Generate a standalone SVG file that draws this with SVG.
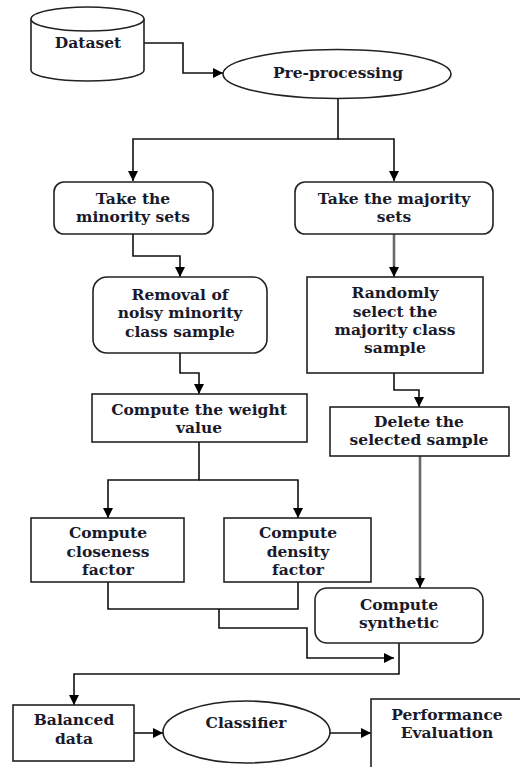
<svg xmlns="http://www.w3.org/2000/svg" width="520" height="767" viewBox="0 0 520 767">
<style>
.n{fill:#fff;stroke:#222;stroke-width:1.6}
.t{font-family:"DejaVu Serif","Liberation Serif",serif;font-size:15.5px;font-weight:bold;fill:#1a1a2a;text-anchor:middle}
.c{fill:none;stroke:#111;stroke-width:1.6}
.g{fill:none;stroke:#6a6a6a;stroke-width:2.6}
</style>
<defs>
<marker id="a" markerUnits="userSpaceOnUse" markerWidth="10" markerHeight="10" refX="10" refY="5" orient="auto" viewBox="0 0 10 10">
<path d="M0,0 L10,5 L0,10 z" fill="#000"/>
</marker>
</defs>
<rect width="520" height="767" fill="#fff"/>
<g id="connectors">
<path class="c" d="M144,43 H183 V73 H223" marker-end="url(#a)"/>
<path class="c" d="M338,99 V139 H133 V181" marker-end="url(#a)"/>
<path class="c" d="M338,139 H394 V181" marker-end="url(#a)"/>
<path class="c" d="M133,234 V256 H180 V277" marker-end="url(#a)"/>
<path class="g" d="M394,234 V268"/>
<path class="c" d="M394,266 V277" marker-end="url(#a)"/>
<path class="c" d="M180,353 V373 H199 V394" marker-end="url(#a)"/>
<path class="c" d="M394,373 V390 H419 V407" marker-end="url(#a)"/>
<path class="c" d="M199,442 V480 H108 V518" marker-end="url(#a)"/>
<path class="c" d="M199,480 H298 V518" marker-end="url(#a)"/>
<path class="g" d="M420,456 V578"/>
<path class="c" d="M420,576 V588" marker-end="url(#a)"/>
<path class="c" d="M108,582 V609 H298 V582"/>
<path class="c" d="M219,609 V628 H307 V658 H394" marker-end="url(#a)"/>
<path class="c" d="M399,643 V674 H74 V705" marker-end="url(#a)"/>
<path class="c" d="M134,733 H163" marker-end="url(#a)"/>
<path class="c" d="M330,733 H371" marker-end="url(#a)"/>
</g>
<g id="dataset">
<path class="n" d="M31,19 V70 A56.5,11 0 0 0 144,70 V19"/>
<ellipse class="n" cx="87.5" cy="19" rx="56.5" ry="12"/>
<text class="t" x="88" y="48">Dataset</text>
</g>
<g id="preprocessing">
<ellipse class="n" cx="337" cy="74" rx="114" ry="24.5"/>
<text class="t" x="338" y="78">Pre-processing</text>
</g>
<g id="minority">
<rect class="n" x="54" y="182" width="159" height="52" rx="10"/>
<text class="t" x="133" y="204">Take the</text>
<text class="t" x="133" y="222">minority sets</text>
</g>
<g id="majority">
<rect class="n" x="295" y="182" width="198" height="52" rx="10"/>
<text class="t" x="394" y="204">Take the majority</text>
<text class="t" x="394" y="222">sets</text>
</g>
<g id="removal">
<rect class="n" x="93" y="277" width="174" height="76" rx="14"/>
<text class="t" x="180" y="300">Removal of</text>
<text class="t" x="180" y="318">noisy minority</text>
<text class="t" x="180" y="337">class sample</text>
</g>
<g id="randomly">
<rect class="n" x="307" y="277" width="176" height="96"/>
<text class="t" x="395" y="298">Randomly</text>
<text class="t" x="395" y="317">select the</text>
<text class="t" x="395" y="335">majority class</text>
<text class="t" x="395" y="353">sample</text>
</g>
<g id="weight">
<rect class="n" x="92" y="394" width="215" height="48"/>
<text class="t" x="199" y="415">Compute the weight</text>
<text class="t" x="199" y="433">value</text>
</g>
<g id="delete">
<rect class="n" x="330" y="407" width="179" height="49"/>
<text class="t" x="419" y="427">Delete the</text>
<text class="t" x="419" y="445">selected sample</text>
</g>
<g id="closeness">
<rect class="n" x="31" y="518" width="153" height="64"/>
<text class="t" x="108" y="538">Compute</text>
<text class="t" x="108" y="557">closeness</text>
<text class="t" x="108" y="575">factor</text>
</g>
<g id="density">
<rect class="n" x="224" y="518" width="147" height="64"/>
<text class="t" x="298" y="538">Compute</text>
<text class="t" x="298" y="557">density</text>
<text class="t" x="298" y="575">factor</text>
</g>
<g id="synthetic">
<rect class="n" x="315" y="588" width="168" height="55" rx="12"/>
<text class="t" x="399" y="610">Compute</text>
<text class="t" x="399" y="628">synthetic</text>
</g>
<g id="balanced">
<rect class="n" x="13" y="705" width="121" height="56"/>
<text class="t" x="74" y="725">Balanced</text>
<text class="t" x="74" y="744">data</text>
</g>
<g id="classifier">
<ellipse class="n" cx="246.5" cy="732" rx="83.5" ry="31"/>
<text class="t" x="246" y="728">Classifier</text>
</g>
<g id="performance">
<rect class="n" x="371" y="699" width="155" height="75"/>
<text class="t" x="447" y="720">Performance</text>
<text class="t" x="447" y="738">Evaluation</text>
</g>
</svg>
